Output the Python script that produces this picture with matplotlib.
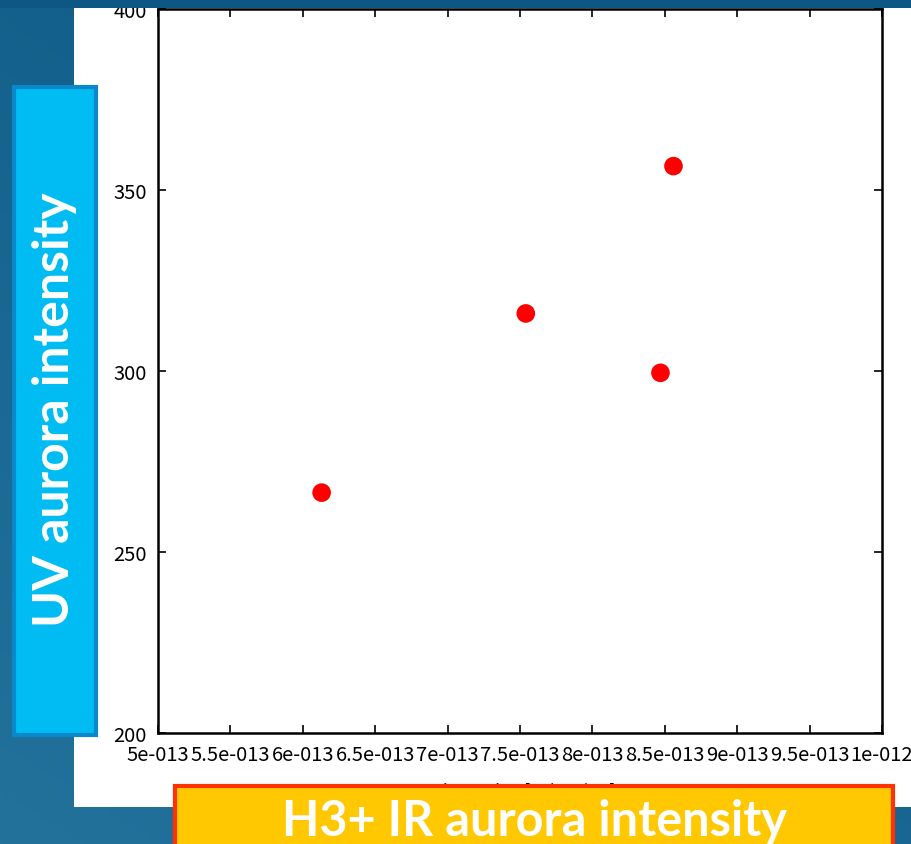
import matplotlib
matplotlib.use("Agg")
import matplotlib.pyplot as plt
from matplotlib.patches import Rectangle
import numpy as np

# IR (H3+) intensity vs UV aurora intensity
ir_intensity = [6.13e-13, 7.54e-13, 8.47e-13, 8.56e-13]
uv_intensity = [266.4, 315.9, 299.5, 356.6]

x_ticks = [5e-13, 5.5e-13, 6e-13, 6.5e-13, 7e-13, 7.5e-13, 8e-13, 8.5e-13, 9e-13, 9.5e-13, 1e-12]
x_ticklabels = ["5e-013", "5.5e-013", "6e-013", "6.5e-013", "7e-013", "7.5e-013",
                "8e-013", "8.5e-013", "9e-013", "9.5e-013", "1e-012"]
y_ticks = [200, 250, 300, 350, 400]

W, H = 912, 845
fig = plt.figure(figsize=(W / 100, H / 100), dpi=100)

# slide background (blue gradient)
bg = fig.add_axes([0, 0, 1, 1])
yy, xx = np.mgrid[0:1:200j, 0:1:200j]
t = 0.6 * yy + 0.4 * (1 - xx)
c0 = np.array([0x0b, 0x55, 0x82]) / 255
c1 = np.array([0x22, 0x72, 0x9c]) / 255
grad = c0[None, None, :] * (1 - t[..., None]) + c1[None, None, :] * t[..., None]
bg.imshow(grad, extent=[0, W, H, 0], aspect="auto")
bg.set_xlim(0, W)
bg.set_ylim(H, 0)
bg.axis("off")

# white plot panel
bg.add_patch(Rectangle((74, 9), W - 74, 808 - 9, facecolor="white", edgecolor="none"))

# hidden x label (mostly under the yellow box)
bg.text(519, 792, "IR intensity  [W/m2/str]", ha="center", va="center",
        fontsize=13, family=["Noto Sans CJK JP", "DejaVu Sans"], color="black")

# the scatter plot
ax = fig.add_axes([158 / W, (H - 734) / H, 724 / W, 724 / H])
ax.scatter(ir_intensity, uv_intensity, s=180, color="#ff0000", edgecolors="none", zorder=3)
ax.set_xlim(5e-13, 1e-12)
ax.set_ylim(200, 400)
ax.set_xticks(x_ticks)
ax.set_xticklabels(x_ticklabels)
ax.set_yticks(y_ticks)
ax.tick_params(direction="in", top=True, right=True, length=6, width=1.2, pad=8,
               labelsize=14.5)
for lab in ax.get_xticklabels() + ax.get_yticklabels():
    lab.set_family(["Noto Sans CJK JP", "DejaVu Sans"])
for sp in ax.spines.values():
    sp.set_linewidth(1.8)
ax.set_facecolor("white")

# overlay boxes of the slide
ov = fig.add_axes([0, 0, 1, 1], facecolor="none")
ov.set_xlim(0, W)
ov.set_ylim(H, 0)
ov.axis("off")
# top strip of the slide covers the upper edge of the panel
ov.add_patch(Rectangle((0, 0), W, 9, facecolor="#0d5784", edgecolor="none"))
ov.add_patch(Rectangle((14, 88), 82, 648, facecolor="#00bcf2", edgecolor="#0a88cc", linewidth=3))
ov.text(55, 410, "UV aurora intensity", rotation=90, ha="center", va="center",
        color="white", fontsize=36, fontweight="bold", family="Lato")
ov.add_patch(Rectangle((175, 787), 718, 70, facecolor="#ffc800", edgecolor="#ff3300",
                       linewidth=3, clip_on=False))
ov.text(535, 822, "H3+ IR aurora intensity", ha="center", va="center",
        color="white", fontsize=35, fontweight="bold", family="Lato")

fig.savefig("out.png", dpi=100)
